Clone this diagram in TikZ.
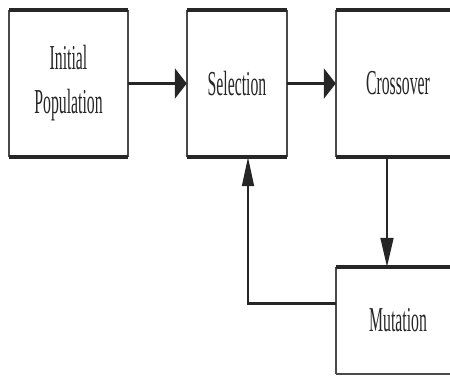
\documentclass[tikz,border=0pt]{standalone}
\usepackage{fontspec}
\setmainfont[FakeStretch=0.45]{Liberation Serif}
\usetikzlibrary{arrows.meta}
\definecolor{ink}{HTML}{262626}
\definecolor{side}{HTML}{4a4a4a}
\begin{document}
\begin{tikzpicture}[x=1pt,y=-1pt,
  box/.style={minimum height=147pt, inner sep=0pt, text=ink,
    font=\fontsize{35}{44}\selectfont, align=center},
  thickedge/.style={line width=3.6pt, draw=ink},
  thinedge/.style={line width=1.6pt, draw=side},
  harrow/.style={line width=3.5pt, draw=ink, -{Triangle[length=12pt,width=30pt]}},
  hline/.style={line width=3pt, draw=ink},
  varrow/.style={line width=1.6pt, draw=ink, -{Triangle[length=29pt,width=13pt]}},
]
\useasboundingbox (0,0) rectangle (450,376);
\clip (0,0) rectangle (450,376);

\node[box, minimum width=119pt] (init) at (68.5,83.5) {Initial\\Population};
\node[box, minimum width=100pt] (sel) at (237,83.5) {Selection};
\node[box, minimum width=124pt] (cross) at (398,83.5) {Crossover};
\node[box, minimum width=124pt, minimum height=107pt] (mut) at (398,320.5) {Mutation};

\foreach \n in {init,sel,cross} {
  \draw[thinedge] (\n.north west) -- (\n.south west);
  \draw[thinedge] (\n.north east) -- (\n.south east);
  \draw[thickedge] (\n.north west) -- (\n.north east);
  \draw[thickedge] (\n.south west) -- (\n.south east);
}
\draw[thinedge] (mut.north west) -- (mut.south west);
\draw[thickedge] (mut.north west) -- (mut.north east);
\draw[line width=2.4pt, draw=side] (mut.south west) -- (mut.south east);

\draw[harrow] (init.east) -- (sel.west);
\draw[harrow] (sel.east) -- (cross.west);
\draw[varrow] ([xshift=-11pt]cross.south) -- ([xshift=-11pt]mut.north);

\coordinate (ml) at ([yshift=17.5pt]mut.west);
\coordinate (sb) at ([xshift=11pt]sel.south);
\coordinate (bend) at (sb |- ml);
\draw[hline] (ml) -- ([xshift=-0.8pt]bend);
\draw[line width=1.6pt, draw=ink, -{Triangle[length=29pt,width=12pt]}] (bend) -- (sb);
\end{tikzpicture}
\end{document}
